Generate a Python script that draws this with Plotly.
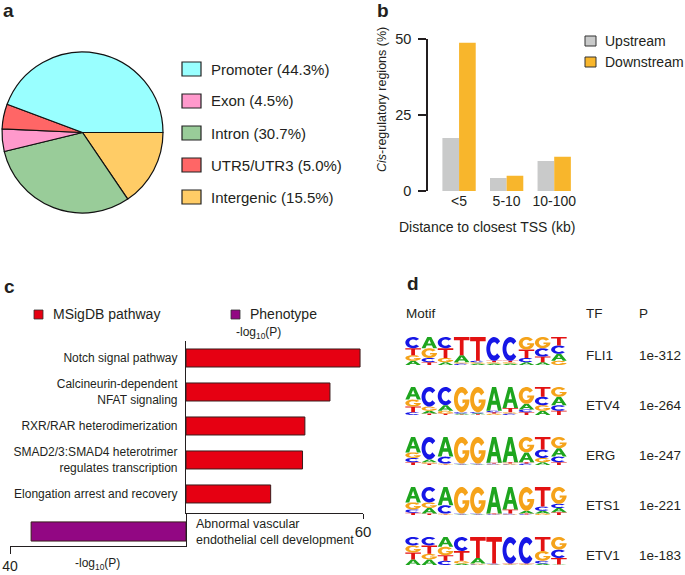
import numpy as np
import plotly.graph_objects as go

W, H = 685, 575
FONT = "Liberation Sans, Arial, sans-serif"
INK = "#231f20"


def px(x):
    return x / W


def py(y):
    return 1 - y / H


# ---------------- Panel a : genomic distribution ----------------
region_labels = ["Promoter", "Exon", "Intron", "UTR5/UTR3", "Intergenic"]
region_pct = [44.3, 4.5, 30.7, 5.0, 15.5]
region_colors = ["#99ffff", "#ff99cc", "#99cc99", "#ff6666", "#ffcc66"]
# slice order going clockwise from 3 o'clock
pie_slice_order = ["Intergenic", "Intron", "Exon", "UTR5/UTR3", "Promoter"]

# ---------------- Panel b : distance to TSS ----------------
tss_bins = ["<5", "5-10", "10-100"]
upstream_pct = [17.5, 4.3, 9.9]
downstream_pct = [48.9, 5.0, 11.3]

# ---------------- Panel c : enrichment ----------------
pathway_names = [
    "Notch signal pathway",
    "Calcineurin-dependent<br>NFAT signaling",
    "RXR/RAR heterodimerization",
    "SMAD2/3:SMAD4 heterotrimer<br>regulates transcription",
    "Elongation arrest and recovery",
]
pathway_logp = [59.0, 48.8, 40.3, 39.5, 28.7]
phenotype_names = ["Abnormal vascular<br>endothelial cell development"]
phenotype_logp = [35.2]

# ---------------- Panel d : motifs ----------------
tf_names = ["FLI1", "ETV4", "ERG", "ETS1", "ETV1"]
tf_pvalues = ["1e-312", "1e-264", "1e-247", "1e-221", "1e-183"]
# each column listed bottom -> top as (letter, probability)
motif_FLI1 = [
    [("A", .15), ("G", .2), ("T", .25), ("C", .4)],
    [("T", .1), ("C", .15), ("G", .35), ("A", .4)],
    [("A", .1), ("G", .15), ("T", .35), ("C", .4)],
    [("C", .05), ("G", .05), ("A", .25), ("T", .65)],
    [("A", .05), ("G", .05), ("C", .05), ("T", .85)],
    [("A", .05), ("G", .05), ("T", .05), ("C", .85)],
    [("A", .05), ("G", .05), ("T", .05), ("C", .85)],
    [("A", .1), ("C", .15), ("T", .3), ("G", .45)],
    [("A", .1), ("T", .2), ("C", .3), ("G", .4)],
    [("G", .15), ("A", .25), ("C", .3), ("T", .3)],
]
motif_ETV4 = [
    [("C", .1), ("T", .2), ("G", .25), ("A", .45)],
    [("T", .05), ("A", .1), ("G", .15), ("C", .7)],
    [("T", .05), ("G", .1), ("A", .2), ("C", .65)],
    [("T", .02), ("A", .03), ("C", .05), ("G", .9)],
    [("T", .03), ("A", .03), ("C", .04), ("G", .9)],
    [("G", .05), ("T", .05), ("C", .05), ("A", .85)],
    [("C", .05), ("G", .05), ("T", .15), ("A", .75)],
    [("T", .1), ("C", .1), ("A", .2), ("G", .6)],
    [("A", .15), ("G", .2), ("C", .3), ("T", .35)],
    [("T", .15), ("C", .2), ("A", .3), ("G", .35)],
]
motif_ERG = [
    [("T", .1), ("C", .15), ("G", .2), ("A", .55)],
    [("T", .05), ("G", .05), ("A", .1), ("C", .8)],
    [("T", .02), ("G", .03), ("C", .25), ("A", .7)],
    [("T", .01), ("A", .02), ("C", .02), ("G", .95)],
    [("T", .01), ("A", .02), ("C", .02), ("G", .95)],
    [("G", .02), ("C", .03), ("T", .03), ("A", .92)],
    [("C", .02), ("G", .03), ("T", .05), ("A", .9)],
    [("C", .05), ("T", .05), ("A", .35), ("G", .55)],
    [("A", .1), ("G", .15), ("C", .3), ("T", .45)],
    [("T", .1), ("C", .2), ("A", .3), ("G", .4)],
]
motif_ETS1 = [
    [("T", .08), ("C", .12), ("G", .25), ("A", .55)],
    [("T", .05), ("A", .2), ("G", .2), ("C", .55)],
    [("T", .02), ("G", .03), ("C", .3), ("A", .65)],
    [("T", .01), ("A", .02), ("C", .02), ("G", .95)],
    [("T", .01), ("A", .02), ("C", .02), ("G", .95)],
    [("G", .01), ("C", .02), ("T", .02), ("A", .95)],
    [("G", .02), ("C", .03), ("T", .15), ("A", .8)],
    [("C", .02), ("T", .03), ("A", .1), ("G", .85)],
    [("G", .05), ("A", .1), ("C", .15), ("T", .7)],
    [("T", .1), ("A", .15), ("C", .15), ("G", .6)],
]
motif_ETV1 = [
    [("A", .2), ("T", .25), ("G", .25), ("C", .3)],
    [("A", .2), ("G", .2), ("T", .3), ("C", .3)],
    [("C", .15), ("T", .2), ("G", .3), ("A", .35)],
    [("A", .05), ("G", .1), ("T", .35), ("C", .5)],
    [("C", .02), ("G", .03), ("A", .2), ("T", .75)],
    [("A", .01), ("G", .02), ("C", .02), ("T", .95)],
    [("A", .01), ("G", .02), ("T", .02), ("C", .95)],
    [("A", .01), ("G", .02), ("T", .02), ("C", .95)],
    [("A", .05), ("C", .1), ("G", .35), ("T", .5)],
    [("A", .02), ("T", .23), ("C", .3), ("G", .45)],
]
motifs = [motif_FLI1, motif_ETV4, motif_ERG, motif_ETS1, motif_ETV1]
letter_colors = {"A": "#1ea51e", "C": "#1616e6", "G": "#f5a31a", "T": "#e31212"}


# ---------- glyph outlines in a unit box (x right, y up) ----------
def _arc(cx, cy, rx, ry, a0, a1, n=28):
    t = np.radians(np.linspace(a0, a1, n))
    return list(zip(cx + rx * np.cos(t), cy + ry * np.sin(t)))


def glyph_polys(letter):
    if letter == "T":
        return [[(0, 1), (1, 1), (1, 0.82), (0.62, 0.82), (0.62, 0), (0.38, 0), (0.38, 0.82), (0, 0.82)]]
    if letter == "A":
        return [
            [(0, 0), (0.37, 1), (0.63, 1), (1, 0), (0.75, 0), (0.67, 0.25), (0.33, 0.25), (0.25, 0)],
            [(0.39, 0.42), (0.61, 0.42), (0.5, 0.76)],
        ]
    if letter == "C":
        outer = _arc(0.5, 0.5, 0.5, 0.5, 40, 320)
        inner = _arc(0.5, 0.5, 0.25, 0.28, 320, 40)
        return [outer + inner]
    if letter == "G":
        outer = _arc(0.5, 0.5, 0.5, 0.5, 35, 360)
        inner = _arc(0.5, 0.5, 0.25, 0.28, 335, 35)
        return [outer + [(0.55, 0.5), (0.55, 0.36)] + inner]
    return []


def glyph_path(letter, x0, y0, w, h):
    parts = []
    for poly in glyph_polys(letter):
        pts = [f"{x0 + u * w:.4f},{y0 + v * h:.4f}" for u, v in poly]
        parts.append("M" + " L".join(pts) + " Z")
    return " ".join(parts)


fig = go.Figure()

# ---- a : pie ----
pie_values = [region_pct[region_labels.index(l)] for l in pie_slice_order]
pie_cols = [region_colors[region_labels.index(l)] for l in pie_slice_order]
fig.add_trace(go.Pie(
    labels=pie_slice_order, values=pie_values, sort=False,
    direction="clockwise", rotation=90,
    marker=dict(colors=pie_cols, line=dict(color="#111111", width=1.2)),
    textinfo="none", showlegend=False,
    domain=dict(x=[px(2), px(163)], y=[py(213), py(52)]),
))

# ---- b : grouped bars ----
fig.add_trace(go.Bar(x=tss_bins, y=upstream_pct, name="Upstream",
                     marker=dict(color="#c9caca", line=dict(width=0)),
                     xaxis="x2", yaxis="y2", showlegend=False))
fig.add_trace(go.Bar(x=tss_bins, y=downstream_pct, name="Downstream",
                     marker=dict(color="#f8b62c", line=dict(width=0)),
                     xaxis="x2", yaxis="y2", showlegend=False))

# ---- c : horizontal bars ----
fig.add_trace(go.Bar(x=pathway_logp, y=list(range(len(pathway_logp))), orientation="h",
                     width=0.53, marker=dict(color="#e60012", line=dict(color="#3a1c1c", width=1)),
                     xaxis="x3", yaxis="y3", showlegend=False))
fig.add_trace(go.Bar(x=phenotype_logp, y=[0], orientation="h",
                     width=0.58, marker=dict(color="#920783", line=dict(color="#3a1c1c", width=1)),
                     xaxis="x4", yaxis="y4", showlegend=False))

# invisible anchor trace for logo axes
fig.add_trace(go.Scatter(x=[0, 10], y=[0, -4], mode="markers", marker=dict(opacity=0),
                         xaxis="x5", yaxis="y5", showlegend=False, hoverinfo="skip"))

shapes = []
ann = []

# ---- d : sequence logos ----
LOGO_H = 0.56
for r, motif in enumerate(motifs):
    for c, col in enumerate(motif):
        total = sum(p for _, p in col)
        base = -r - LOGO_H
        for letter, p in col:
            h = LOGO_H * p / total
            shapes.append(dict(
                type="path", xref="x5", yref="y5",
                path=glyph_path(letter, c + 0.02, base, 0.96, h),
                fillcolor=letter_colors[letter], line=dict(width=0),
                fillrule="evenodd", layer="above",
            ))
            base += h
    ann.append(dict(x=px(584), y=py(355 + 50 * r), text=tf_names[r], xanchor="left"))
    ann.append(dict(x=px(637), y=py(355 + 50 * r), text=tf_pvalues[r], xanchor="left"))
ann.append(dict(x=px(404), y=py(313), text="Motif", xanchor="left"))
ann.append(dict(x=px(584), y=py(313), text="TF", xanchor="left"))
ann.append(dict(x=px(637), y=py(313), text="P", xanchor="left"))

# ---- a : legend ----
for i, (lab, val, colr) in enumerate(zip(region_labels, region_pct, region_colors)):
    yc = 69 + 32 * i
    shapes.append(dict(type="rect", xref="paper", yref="paper",
                       x0=px(182), x1=px(201), y0=py(yc + 7), y1=py(yc - 7),
                       fillcolor=colr, line=dict(color="#222222", width=1.2)))
    ann.append(dict(x=px(209), y=py(yc), text=f"{lab} ({val:.1f}%)", xanchor="left",
                    font=dict(size=15)))

# ---- b : legend ----
for i, (lab, colr) in enumerate([("Upstream", "#c9caca"), ("Downstream", "#f8b62c")]):
    yc = 41 + 21 * i
    shapes.append(dict(type="rect", xref="paper", yref="paper",
                       x0=px(585), x1=px(596), y0=py(yc + 5), y1=py(yc - 5),
                       fillcolor=colr, line=dict(color="#333333", width=1)))
    ann.append(dict(x=px(603), y=py(yc), text=lab, xanchor="left", font=dict(size=14)))
ann.append(dict(x=px(382), y=py(100), text="<i>Cis</i>-regulatory regions (%)", textangle=-90,
                font=dict(size=12.5)))
ann.append(dict(x=px(487), y=py(227), text="Distance to closest TSS (kb)", font=dict(size=14)))

# ---- c : legend & labels ----
for lab, colr, x0 in [("MSigDB pathway", "#e60012", 34), ("Phenotype", "#920783", 231)]:
    shapes.append(dict(type="rect", xref="paper", yref="paper",
                       x0=px(x0), x1=px(x0 + 9), y0=py(319), y1=py(310),
                       fillcolor=colr, line=dict(color="#333333", width=0.8)))
    ann.append(dict(x=px(x0 + 17), y=py(314), text=lab, xanchor="left", font=dict(size=14)))
ann.append(dict(x=px(258), y=py(333), text="-log<sub>10</sub>(P)", font=dict(size=12)))
ann.append(dict(x=px(97), y=py(564), text="-log<sub>10</sub>(P)", font=dict(size=12)))
ann.append(dict(x=px(194), y=py(532), text=phenotype_names[0], xanchor="left", align="left",
                font=dict(size=12.5)))

# ---- panel letters ----
for t, x, y in [("a", 1, 11), ("b", 375, 10), ("c", 2, 286), ("d", 405, 284)]:
    ann.append(dict(x=px(x), y=py(y), text=f"<b>{t}</b>", xanchor="left", font=dict(size=19)))

for a in ann:
    a.setdefault("xref", "paper")
    a.setdefault("yref", "paper")
    a.setdefault("showarrow", False)
    a.setdefault("xanchor", "center")
    a.setdefault("yanchor", "middle")
    a.setdefault("font", dict(size=13.5))

axis_common = dict(showgrid=False, zeroline=False, color=INK, linecolor=INK, automargin=False)

fig.update_layout(
    width=W, height=H, margin=dict(l=0, r=0, t=0, b=0, autoexpand=False),
    paper_bgcolor="white", plot_bgcolor="rgba(0,0,0,0)",
    font=dict(family=FONT, color=INK, size=13),
    barmode="group", bargap=0.3, bargroupgap=0,
    showlegend=False,
    xaxis2=dict(domain=[px(428), px(578)], anchor="y2", type="category",
                range=[-0.653, 2.5], showline=False, ticks="", tickfont=dict(size=14),
                **axis_common),
    yaxis2=dict(domain=[py(191), py(39.3)], anchor="x2", range=[0, 50], tickvals=[0, 25, 50],
                showline=True, linewidth=1.6, ticks="outside", ticklen=8, tickwidth=1.6,
                tickcolor=INK, tickfont=dict(size=14.5), ticklabelstandoff=4, **axis_common),
    xaxis3=dict(domain=[px(186), px(363)], anchor="y3", range=[0, 60], tickvals=[60],
                showline=True, linewidth=1.2, ticks="outside", ticklen=5, tickwidth=1.2,
                tickcolor=INK, tickfont=dict(size=15), **axis_common),
    yaxis3=dict(domain=[py(513), py(341)], anchor="x3", range=[4.56, -0.5],
                tickvals=list(range(len(pathway_names))), ticktext=pathway_names,
                showline=True, linewidth=1.2, ticks="", tickfont=dict(size=12),
                ticklabelstandoff=5, **axis_common),
    xaxis4=dict(domain=[px(10), px(186)], anchor="y4", range=[40, 0], tickvals=[40],
                showline=True, linewidth=1.2, ticks="outside", ticklen=7, tickwidth=1.2,
                tickcolor=INK, tickfont=dict(size=14), **axis_common),
    yaxis4=dict(domain=[py(546), py(513)], anchor="x4", range=[-0.44, 0.56], side="right",
                showline=True, linewidth=1.2, showticklabels=False, ticks="", **axis_common),
    xaxis5=dict(domain=[px(405), px(567)], anchor="y5", range=[0, 10], visible=False,
                automargin=False),
    yaxis5=dict(domain=[py(575), py(330)], anchor="x5",
                range=[(337 - 575) / 50, (337 - 330) / 50], visible=False, automargin=False),
    shapes=shapes, annotations=ann,
)

fig.write_html("out.html", config={"displayModeBar": False},
               post_script="document.body.style.margin='0';document.body.style.overflow='hidden';")
